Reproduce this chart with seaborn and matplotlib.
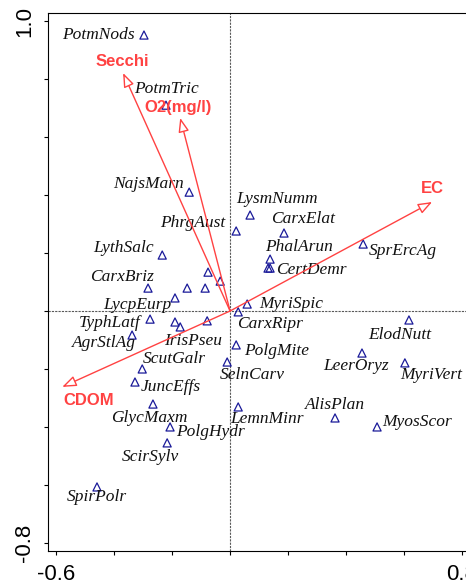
import numpy as np
import pandas as pd
import seaborn as sns
import matplotlib.pyplot as plt
from matplotlib.ticker import FixedLocator, FixedFormatter

# species scores (triangles)
sp_x = [-0.297, -0.221, -0.141, 0.021, 0.069, 0.186, 0.459, 0.138, 0.131, 0.138,
        -0.234, -0.076, -0.034, -0.283, -0.148, -0.086, -0.190, 0.059, 0.028, -0.276,
        -0.190, -0.172, -0.079, -0.338, 0.021, -0.010, -0.303, -0.328, -0.266, 0.028,
        -0.207, -0.217, -0.459, 0.362, 0.507, 0.617, 0.455, 0.603]
sp_y = [0.952, 0.710, 0.410, 0.276, 0.331, 0.269, 0.231, 0.179, 0.148, 0.148,
        0.193, 0.134, 0.103, 0.079, 0.079, 0.079, 0.045, 0.024, -0.003, -0.028,
        -0.038, -0.055, -0.034, -0.083, -0.117, -0.176, -0.200, -0.245, -0.321, -0.331,
        -0.400, -0.455, -0.607, -0.369, -0.400, -0.031, -0.145, -0.179]

# species labels (placed next to their points)
lab_names = ['PotmNods', 'PotmTric', 'NajsMarn', 'PhrgAust', 'LythSalc', 'CarxBriz',
             'LysmNumm', 'CarxElat', 'PhalArun', 'CertDemr', 'SprErcAg', 'MyriSpic',
             'CarxRipr', 'ElodNutt', 'PolgMite', 'LeerOryz', 'MyriVert', 'SelnCarv',
             'LycpEurp', 'TyphLatf', 'AgrStlAg', 'IrisPseu', 'ScutGalr', 'JuncEffs',
             'GlycMaxm', 'PolgHydr', 'ScirSylv', 'SpirPolr', 'LemnMinr', 'AlisPlan',
             'MyosScor']
lab_x = [-0.455, -0.221, -0.283, -0.128, -0.369, -0.372,
         0.162, 0.252, 0.238, 0.279, 0.597, 0.210,
         0.138, 0.586, 0.162, 0.434, 0.693, 0.076,
         -0.321, -0.414, -0.434, -0.128, -0.193, -0.203,
         -0.279, -0.069, -0.276, -0.459, 0.128, 0.362,
         0.645]
lab_y = [0.952, 0.766, 0.438, 0.303, 0.217, 0.117,
         0.386, 0.317, 0.221, 0.141, 0.207, 0.024,
         -0.045, -0.083, -0.138, -0.190, -0.221, -0.221,
         0.021, -0.041, -0.110, -0.103, -0.166, -0.262,
         -0.369, -0.417, -0.503, -0.641, -0.372, -0.324,
         -0.383]

# environmental vectors
env_names = ['Secchi', 'O2(mg/l)', 'EC', 'CDOM']
env_x = [-0.369, -0.172, 0.697, -0.579]
env_y = [0.821, 0.666, 0.376, -0.262]
env_lab_x = [-0.372, -0.179, 0.697, -0.486]
env_lab_y = [0.859, 0.703, 0.421, -0.310]

sns.set_style('ticks')
plt.rcParams['font.family'] = ['Liberation Sans', 'DejaVu Sans']

red = '#ff4242'
fig = plt.figure(figsize=(4.66, 5.83), dpi=100)
ax = fig.add_axes([48/466, 32/583, 428.5/466, 538/583])

ax.axhline(0, color='0.35', lw=0.8, ls=(0, (2, 1)), zorder=1)
ax.axvline(0, color='0.35', lw=0.8, ls=(0, (2, 1)), zorder=1)

df = pd.DataFrame({'x': sp_x, 'y': sp_y})
sns.scatterplot(data=df, x='x', y='y', ax=ax, marker='^', s=34,
                facecolors='none', edgecolor='#1a1a99', linewidth=0.9, zorder=3)

for n, x, y in zip(lab_names, lab_x, lab_y):
    ax.text(x, y, n, ha='center', va='center', fontsize=12.5, color='#111111',
            family='Liberation Serif', style='italic', zorder=4)

for n, x, y, lx, ly in zip(env_names, env_x, env_y, env_lab_x, env_lab_y):
    ax.annotate('', xy=(x, y), xytext=(0, 0),
                arrowprops=dict(arrowstyle='-|>,head_length=0.85,head_width=0.32',
                                fc='white', ec=red, lw=1.0, shrinkA=0, shrinkB=0),
                zorder=5)
    ax.text(lx, ly, n, ha='center', va='center', fontsize=12, color=red,
            fontweight='bold', zorder=6)

ax.set_xlim(-0.628, 0.85)
ax.set_ylim(-0.828, 1.028)
ax.set_xlabel('')
ax.set_ylabel('')

xt = [-0.6, -0.4, -0.2, 0.0, 0.2, 0.4, 0.6, 0.8]
yt = [-0.8, -0.6, -0.4, -0.2, 0.0, 0.2, 0.4, 0.6, 0.8, 1.0]
ax.xaxis.set_major_locator(FixedLocator(xt))
ax.xaxis.set_major_formatter(FixedFormatter(['-0.6', '', '', '', '', '', '', '0.8']))
ax.yaxis.set_major_locator(FixedLocator(yt))
ax.yaxis.set_major_formatter(FixedFormatter(['-0.8', '', '', '', '', '', '', '', '', '1.0']))
ax.tick_params(axis='both', direction='out', length=3, width=0.8, labelsize=16,
               color='black', labelcolor='black', pad=6)
plt.setp(ax.get_yticklabels(), rotation=90, va='center')
for s in ax.spines.values():
    s.set_linewidth(0.8)
    s.set_color('black')

fig.savefig('out.png', dpi=100)
